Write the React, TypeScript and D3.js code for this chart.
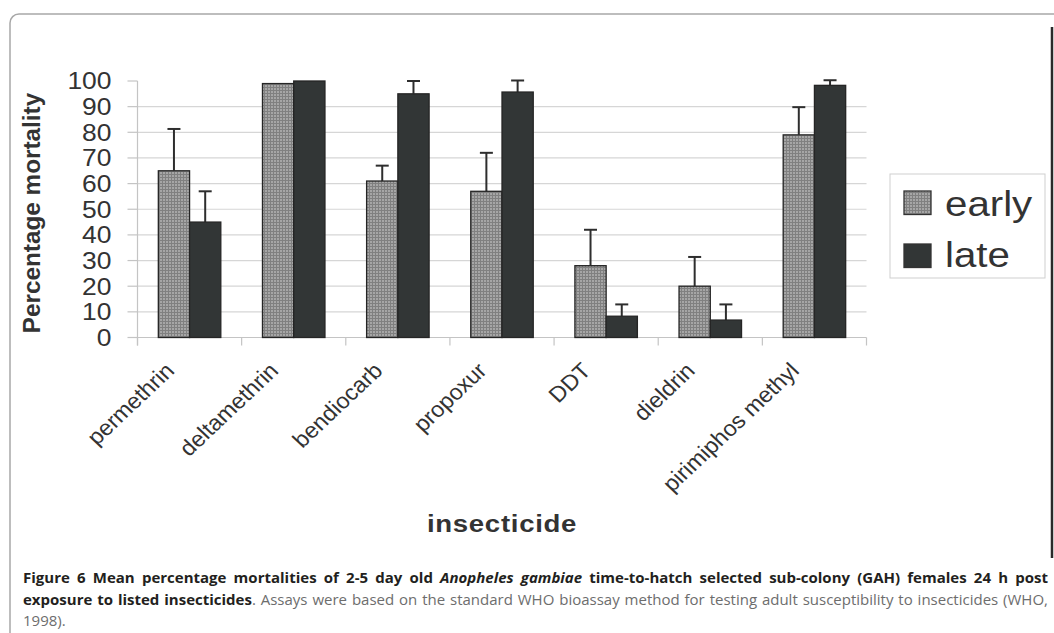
import React, { useLayoutEffect, useRef } from "react";
import * as d3 from "d3";

const categories = ["permethrin", "deltamethrin", "bendiocarb", "propoxur", "DDT", "dieldrin", "pirimiphos methyl"];
const seriesNames = ["early", "late"];
const earlyValues = [65, 99, 61, 57, 28, 20, 79];
const earlyErrors = [16.3, 0, 6, 15, 14, 11.4, 10.8];
const lateValues = [45, 100, 95, 95.7, 8.3, 6.8, 98.3];
const lateErrors = [12, 0, 5, 4.5, 4.6, 6.1, 2];
const yTicks = [0, 10, 20, 30, 40, 50, 60, 70, 80, 90, 100];
const yTitle = "Percentage mortality";
const xTitle = "insecticide";

const captionLine1 = [
  { t: "Figure 6 Mean percentage mortalities of 2-5 day old ", bold: true, italic: false, gray: false },
  { t: "Anopheles gambiae", bold: true, italic: true, gray: false },
  { t: " time-to-hatch selected sub-colony (GAH) females 24 h post", bold: true, italic: false, gray: false },
];
const captionLine2 = [
  { t: "exposure to listed insecticides", bold: true, italic: false, gray: false },
  { t: ". Assays were based on the standard WHO bioassay method for testing adult susceptibility to insecticides (WHO,", bold: false, italic: false, gray: true },
];
const captionLine3 = [{ t: "1998).", bold: false, italic: false, gray: true }];

const W = 1054;
const H = 633;
const plot = { left: 137.5, right: 866.5, top: 81, bottom: 337.5 };
const SX = 1.15;
const FONT = "'Liberation Sans', Arial, sans-serif";
const CAP_FONT = "'Open Sans', 'Noto Sans', sans-serif";

export default function App() {
  const l1 = useRef<SVGTextElement>(null);
  const l2 = useRef<SVGTextElement>(null);

  useLayoutEffect(() => {
    const target = 1048 - 23;
    [l1.current, l2.current].forEach((el) => {
      if (!el) return;
      el.style.wordSpacing = "0px";
      const len = el.getComputedTextLength();
      const spaces = (el.textContent || "").split(" ").length - 1;
      if (spaces > 0) el.style.wordSpacing = `${(target - len) / spaces}px`;
    });
  }, []);

  const x0 = d3.scaleBand<string>().domain(categories).range([plot.left, plot.right]).paddingInner(0.4).paddingOuter(0.2);
  const x1 = d3.scaleBand<string>().domain(seriesNames).range([0, x0.bandwidth()]);
  const y = d3.scaleLinear().domain([0, 100]).range([plot.bottom, plot.top]);
  const step = (plot.right - plot.left) / categories.length;
  const tickXs = d3.range(categories.length + 1).map((i) => plot.left + i * step);

  const bars = categories.flatMap((c, i) => [
    { c, s: "early", v: earlyValues[i], e: earlyErrors[i] },
    { c, s: "late", v: lateValues[i], e: lateErrors[i] },
  ]);

  const seg = (segs: typeof captionLine1) =>
    segs.map((s, i) => (
      <tspan key={i} fontWeight={s.bold ? 700 : 400} fontStyle={s.italic ? "italic" : "normal"} fill={s.gray ? "#6d6d6d" : "#231f20"}>
        {s.t}
      </tspan>
    ));

  return (
    <svg width={W} height={H} style={{ position: "absolute", left: 0, top: 0, display: "block", background: "#fff" }}>
      <defs>
        <pattern id="stipple" width="3" height="3" patternUnits="userSpaceOnUse">
          <rect width="3" height="3" fill="#a6a6a6" />
          <rect width="1" height="3" fill="#808080" />
          <rect width="3" height="1" fill="#808080" />
        </pattern>
      </defs>
      {/* frame */}
      <rect x={10} y={14} width={1100} height={700} rx={9} ry={9} fill="none" stroke="#a8a8a8" strokeWidth={1.5} />
      <line x1={1052} x2={1052} y1={27} y2={558} stroke="#2a2a2a" strokeWidth={2.5} />

      {/* gridlines */}
      {yTicks.map((t) => (
        <g key={t}>
          {t > 0 && t < 100 && <line x1={plot.left} x2={plot.right} y1={y(t)} y2={y(t)} stroke="#d6d6d6" strokeWidth={1.2} />}
          <line x1={plot.left - 10} x2={plot.left} y1={y(t)} y2={y(t)} stroke="#c4c4c4" strokeWidth={1.2} />
          <text
            transform={`translate(111.5,${y(t) + 8.3}) scale(${SX},1)`}
            textAnchor="end"
            fontFamily={FONT}
            fontSize={23}
            fill="#333"
          >
            {t}
          </text>
        </g>
      ))}
      <line x1={plot.left} x2={plot.left} y1={plot.top} y2={plot.bottom + 8} stroke="#c4c4c4" strokeWidth={1.2} />
      <line x1={plot.left} x2={plot.right} y1={plot.bottom} y2={plot.bottom} stroke="#c4c4c4" strokeWidth={1.2} />
      {tickXs.map((tx, i) => (
        <line key={i} x1={tx} x2={tx} y1={plot.bottom} y2={plot.bottom + 8} stroke="#c4c4c4" strokeWidth={1.2} />
      ))}

      {/* bars */}
      {bars.map((b, i) => {
        const bx = (x0(b.c) as number) + (x1(b.s) as number);
        const bw = x1.bandwidth();
        const cx = bx + bw / 2;
        return (
          <g key={i}>
            {b.e > 0 && (
              <g stroke="#2e2e2e" strokeWidth={2}>
                <line x1={cx} x2={cx} y1={y(b.v)} y2={y(b.v + b.e)} />
                <line x1={cx - 6.5} x2={cx + 6.5} y1={y(b.v + b.e)} y2={y(b.v + b.e)} />
              </g>
            )}
            <rect
              x={bx}
              y={y(b.v)}
              width={bw}
              height={plot.bottom - y(b.v)}
              fill={b.s === "early" ? "url(#stipple)" : "#323636"}
              stroke="#252525"
              strokeWidth={1.3}
            />
          </g>
        );
      })}

      {/* category labels */}
      {categories.map((c) => {
        const cx = (x0(c) as number) + x0.bandwidth() / 2;
        return (
          <text
            key={c}
            transform={`translate(${cx - 14},372) scale(1.06,1) rotate(-45)`}
            textAnchor="end"
            fontFamily={FONT}
            fontSize={22}
            fill="#333"
          >
            {c}
          </text>
        );
      })}

      {/* axis titles */}
      <text
        transform={`translate(40,213) rotate(-90)`}
        textAnchor="middle"
        fontFamily={FONT}
        fontWeight={700}
        fontSize={24.3}
        fill="#333"
      >
        {yTitle}
      </text>
      <text
        transform={`translate(${(plot.left + plot.right) / 2},532) scale(${SX},1)`}
        textAnchor="middle"
        fontFamily={FONT}
        fontWeight={700}
        fontSize={24}
        letterSpacing={0.6}
        fill="#333"
      >
        {xTitle}
      </text>

      {/* legend */}
      <rect x={890} y={174} width={155} height={104} fill="#fff" stroke="#cfcfcf" strokeWidth={1} />
      {seriesNames.map((s, i) => (
        <g key={s}>
          <rect
            x={904}
            y={191 + i * 53}
            width={27}
            height={23.5}
            fill={s === "early" ? "url(#stipple)" : "#323636"}
            stroke="#333"
            strokeWidth={1.3}
          />
          <text transform={`translate(945,${215.7 + i * 51}) scale(${SX},1)`} fontFamily={FONT} fontSize={35} fill="#333">
            {s}
          </text>
        </g>
      ))}

      {/* caption */}
      <text ref={l1} x={23} y={583} fontFamily={CAP_FONT} fontSize={15}>
        {seg(captionLine1)}
      </text>
      <text ref={l2} x={23} y={604.5} fontFamily={CAP_FONT} fontSize={15}>
        {seg(captionLine2)}
      </text>
      <text x={23} y={626} fontFamily={CAP_FONT} fontSize={15}>
        {seg(captionLine3)}
      </text>
    </svg>
  );
}
